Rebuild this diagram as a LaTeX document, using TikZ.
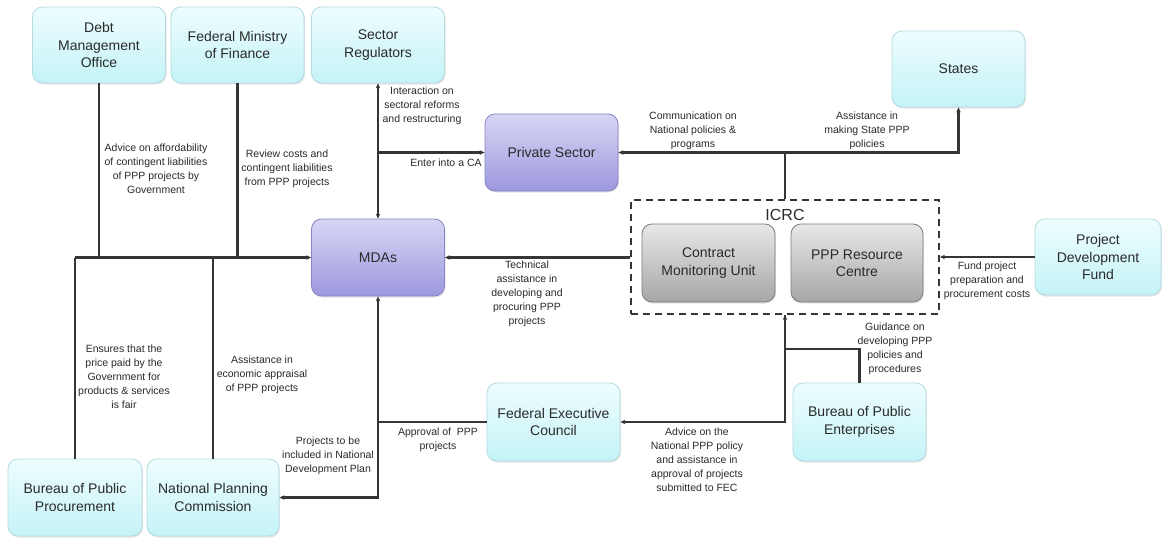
\documentclass[tikz,border=0pt]{standalone}
\usepackage{fontspec}
\setmainfont{Liberation Sans}
\usetikzlibrary{arrows.meta,shadows}
\definecolor{ln}{HTML}{353535}
\definecolor{txt}{HTML}{2A2A2A}
\definecolor{cyT}{HTML}{EEFDFE}
\definecolor{cyB}{HTML}{C4F3F7}
\definecolor{cyD}{HTML}{B4DCE0}
\definecolor{puT}{HTML}{D8D6F5}
\definecolor{puB}{HTML}{9C98DE}
\definecolor{puD}{HTML}{8884C4}
\definecolor{grT}{HTML}{E8E8E8}
\definecolor{grB}{HTML}{A6A6A6}
\definecolor{grD}{HTML}{7C7C7C}
\tikzset{
  basebox/.style={rounded corners=10pt, align=center, text=txt,
    font=\fontsize{14}{17.5}\selectfont, inner sep=2pt, line width=0.8pt,
    drop shadow={shadow xshift=1pt, shadow yshift=-1.5pt, opacity=0.2}},
  cbox/.style={basebox, draw=cyD, top color=cyT, bottom color=cyB},
  pbox/.style={basebox, draw=puD, top color=puT, bottom color=puB},
  gbox/.style={basebox, draw=grD, top color=grT, bottom color=grB},
  conn/.style={draw=ln, line width=2.1pt},
  arr/.style={conn, -{Stealth[length=5pt,width=4.5pt]}},
  barr/.style={conn, {Stealth[length=5pt,width=4.5pt]}-{Stealth[length=5pt,width=4.5pt]}},
  lab/.style={align=center, text=txt, font=\fontsize{10.5}{14}\selectfont, inner sep=0pt}
}
\begin{document}
\begin{tikzpicture}[x=1pt,y=-1pt]
\useasboundingbox[fill=white] (0,0) rectangle (1162,538);

% nodes
\node[cbox, minimum width=133pt, minimum height=76pt] (DMO) at (99,45) {Debt\\Management\\Office};
\node[cbox, minimum width=133pt, minimum height=76pt] (FMF) at (237.5,45) {Federal Ministry\\of Finance};
\node[cbox, minimum width=133pt, minimum height=76pt] (SR) at (378,45) {Sector\\Regulators};
\node[cbox, minimum width=133pt, minimum height=76pt] (ST) at (958.5,69) {States};
\node[pbox, minimum width=133pt, minimum height=77pt] (PS) at (551.5,152.5) {Private Sector};
\node[pbox, minimum width=133pt, minimum height=77pt] (MDA) at (378,257.5) {MDAs};

\node[draw=ln, line width=2pt, dash pattern=on 7pt off 5pt, minimum width=308pt, minimum height=114pt, inner sep=0pt] (ICRC) at (785,257) {};
\node[text=txt, font=\fontsize{16}{18}\selectfont, inner sep=0pt] (ICRCl) at (785,215) {ICRC};
\node[gbox, minimum width=133pt, minimum height=78pt] (CMU) at (708.5,263) {Contract\\Monitoring Unit};
\node[gbox, minimum width=132pt, minimum height=78pt] (PRC) at (857,263) {PPP Resource\\Centre};

\node[cbox, minimum width=126pt, minimum height=76pt] (PDF) at (1098,257) {Project\\Development\\Fund};
\node[cbox, minimum width=133pt, minimum height=78pt] (FEC) at (553.5,422) {Federal Executive\\Council};
\node[cbox, minimum width=133pt, minimum height=78pt] (BPE) at (859.5,422) {Bureau of Public\\Enterprises};
\node[cbox, minimum width=134pt, minimum height=77pt] (BPP) at (75,497.5) {Bureau of Public\\Procurement};
\node[cbox, minimum width=132pt, minimum height=77pt] (NPC) at (213,497.5) {National Planning\\Commission};

% connectors to MDAs from the left
\draw[conn] (DMO.south) -- (DMO.south |- MDA.west);
\draw[conn] (FMF.south) -- (FMF.south |- MDA.west);
\draw[conn] (BPP.north) -- (BPP.north |- MDA.west);
\draw[conn] (NPC.north) -- (NPC.north |- MDA.west);
\draw[arr] (BPP.north |- MDA.west) -- (MDA.west);

% sector regulators
\draw[barr] (SR.south) -- (MDA.north);
\draw[arr] (SR.south |- PS.west) -- (PS.west);

% ICRC connections
\draw[arr] (ICRC.north) |- (PS.east);
\draw[arr] (ICRC.north |- PS.east) -| (ST.south);
\draw[arr] (ICRC.west |- MDA.east) -- (MDA.east);
\draw[arr] (PDF.west) -- (PDF.west -| ICRC.east);
\draw[arr] (ICRC.south) |- (FEC.east);
\draw[arr] (BPE.north) -- ++(0,-34) -| (ICRC.south);

% FEC connections
\coordinate (jF) at (MDA.south |- FEC.west);
\draw[arr] (FEC.west) -| (MDA.south);
\draw[arr] (jF) |- (NPC.east);

% labels
\node[lab] (l1) at (156,169) {Advice on affordability\\of contingent liabilities\\of PPP projects by\\Government};
\node[lab] (l2) at (287,169) {Review costs and\\contingent liabilities\\from PPP projects};
\node[lab] (l3) at (422,106) {Interaction on\\sectoral reforms\\and restructuring};
\node[lab] (l4) at (446,163) {Enter into a CA};
\node[lab] (l5) at (693,131) {Communication on\\National policies \&\\programs};
\node[lab] (l6) at (867,131) {Assistance in\\making State PPP\\policies};
\node[lab] (l7) at (527,294) {Technical\\assistance in\\developing and\\procuring PPP\\projects};
\node[lab] (l8) at (987,281) {Fund project\\preparation and\\procurement costs};
\node[lab] (l9) at (895,349) {Guidance on\\developing PPP\\policies and\\procedures};
\node[lab] (l10) at (124,377) {Ensures that the\\price paid by the\\Government for\\products \& services\\is fair};
\node[lab] (l11) at (262,375) {Assistance in\\economic appraisal\\of PPP projects};
\node[lab] (l12) at (328,456) {Projects to be\\included in National\\Development Plan};
\node[lab] (l13) at (438,440) {Approval of~~PPP\\projects};
\node[lab] (l14) at (697,460) {Advice on the\\National PPP policy\\and assistance in\\approval of projects\\submitted to FEC};
\end{tikzpicture}
\end{document}
